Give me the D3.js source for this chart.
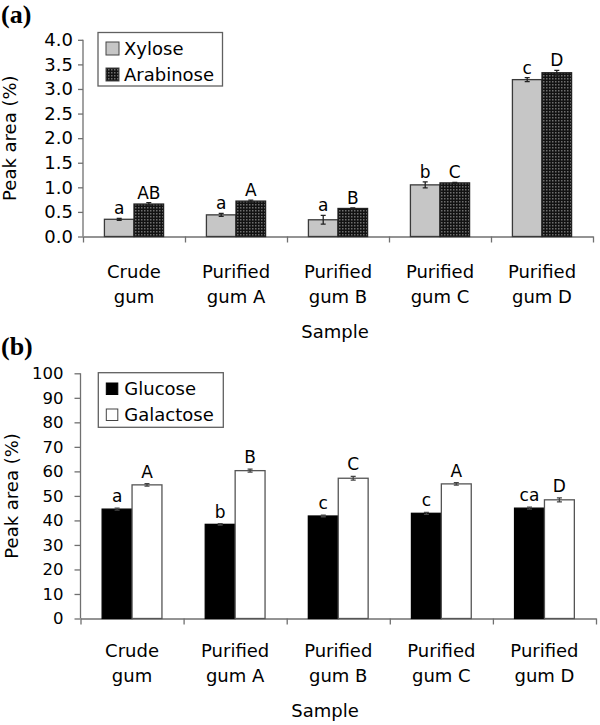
<!DOCTYPE html>
<html>
<head>
<meta charset="utf-8">
<script src="https://cdn.jsdelivr.net/npm/d3@7"></script>
<style>
  html, body { margin: 0; padding: 0; background: #fff; }
  svg { display: block; }
  text { font-family: "DejaVu Sans", "Liberation Sans", Arial, sans-serif; fill: #000; }
</style>
</head>
<body>
<div id="chart"></div>
<script>
// ---------------- DATA ----------------
const categories = ["Crude gum", "Purified gum A", "Purified gum B", "Purified gum C", "Purified gum D"];
const categoryLines = [["Crude", "gum"], ["Purified", "gum A"], ["Purified", "gum B"], ["Purified", "gum C"], ["Purified", "gum D"]];

// Panel (a)
const seriesA = ["Xylose", "Arabinose"];
const xyloseVals = [0.35, 0.44, 0.34, 1.05, 3.19];
const xyloseErr = [0.02, 0.03, 0.09, 0.06, 0.04];
const xyloseLetters = ["a", "a", "a", "b", "c"];
const arabinoseVals = [0.66, 0.72, 0.57, 1.09, 3.33];
const arabinoseErr = [0.03, 0.02, 0.01, 0.01, 0.05];
const arabinoseLetters = ["AB", "A", "B", "C", "D"];
const yTicksA = [0, 0.5, 1.0, 1.5, 2.0, 2.5, 3.0, 3.5, 4.0];

// Panel (b)
const seriesB = ["Glucose", "Galactose"];
const glucoseVals = [44.6, 38.4, 41.8, 42.9, 45.0];
const glucoseErr = [0.4, 0.3, 0.3, 0.4, 0.4];
const glucoseLetters = ["a", "b", "c", "c", "ca"];
const galactoseVals = [54.5, 60.3, 57.2, 54.9, 48.4];
const galactoseErr = [0.5, 0.6, 0.8, 0.5, 0.8];
const galactoseLetters = ["A", "B", "C", "A", "D"];
const yTicksB = [0, 10, 20, 30, 40, 50, 60, 70, 80, 90, 100];

// ---------------- DRAW ----------------
const W = 600, H = 725;
const svg = d3.select("#chart").append("svg").attr("width", W).attr("height", H);

const defs = svg.append("defs");
const pat = defs.append("pattern").attr("id", "checker")
  .attr("patternUnits", "userSpaceOnUse").attr("width", 3).attr("height", 3);
pat.append("rect").attr("width", 3).attr("height", 3).attr("fill", "#121212");
pat.append("rect").attr("width", 1.5).attr("height", 1.5).attr("fill", "#6e6e6e");

const styleA = {
  Xylose: { fill: "#c6c6c6", stroke: "#3a3a3a" },
  Arabinose: { fill: "url(#checker)", stroke: "#222" }
};
const styleB = {
  Glucose: { fill: "#000", stroke: "#000" },
  Galactose: { fill: "#fff", stroke: "#555" }
};

function drawPanel(cfg) {
  const g = svg.append("g");
  const x0 = d3.scaleBand().domain(categories).range([cfg.xL, cfg.xR]).padding(0);
  const bw = x0.bandwidth();
  const frac = cfg.groupFrac;
  const x1 = d3.scaleBand().domain(cfg.series)
    .range([bw * (1 - frac) / 2, bw * (1 + frac) / 2]).padding(0);
  const y = d3.scaleLinear().domain(cfg.yDomain).range([cfg.yB, cfg.yT]);

  // panel letter
  g.append("text").attr("x", 1).attr("y", cfg.tagY)
    .style("font-family", "'Liberation Serif', 'Times New Roman', serif")
    .style("font-weight", "bold").style("font-size", "26px").text(cfg.tag);

  // y axis
  const yAxis = d3.axisLeft(y).tickValues(cfg.yTicks).tickFormat(cfg.yFmt)
    .tickSizeOuter(0).tickSizeInner(cfg.yTickLen).tickPadding(cfg.yTickPad);
  const ga = g.append("g").attr("transform", `translate(${cfg.xL},0)`).call(yAxis);
  ga.select(".domain").attr("stroke", "#707070").attr("stroke-width", 1.3)
    .attr("d", `M0,${cfg.yB}V${cfg.yT}`);
  ga.selectAll(".tick line").attr("stroke", "#707070").attr("stroke-width", 1.3);
  ga.selectAll(".tick text").style("font-size", cfg.yFont + "px")
    .style("font-family", "'DejaVu Sans', sans-serif").attr("fill", "#000");

  // x axis (ticks at band boundaries)
  const bl = d3.scaleLinear().domain([0, categories.length]).range([cfg.xL, cfg.xR]);
  const xAxis = d3.axisBottom(bl).tickValues(d3.range(0, categories.length + 1))
    .tickFormat("").tickSizeOuter(0).tickSizeInner(6);
  const gx = g.append("g").attr("transform", `translate(0,${cfg.yB})`).call(xAxis);
  gx.select(".domain").attr("stroke", "#707070").attr("stroke-width", 1.3);
  gx.selectAll(".tick line").attr("stroke", "#707070").attr("stroke-width", 1.3);

  // category labels
  categories.forEach((c, i) => {
    const t = g.append("text").attr("text-anchor", "middle")
      .attr("x", x0(c) + bw / 2).style("font-size", "18px");
    t.append("tspan").attr("x", x0(c) + bw / 2).attr("y", cfg.catY1).text(categoryLines[i][0]);
    t.append("tspan").attr("x", x0(c) + bw / 2).attr("y", cfg.catY2).text(categoryLines[i][1]);
  });

  // x title
  g.append("text").attr("x", cfg.xTitleX).attr("y", cfg.xTitleY).attr("text-anchor", "middle")
    .style("font-size", "18px").text("Sample");

  // y title
  g.append("text").attr("transform", `translate(${cfg.yTitleX},${(cfg.yB + cfg.yT) / 2}) rotate(-90)`)
    .attr("text-anchor", "middle").style("font-size", "18px").text("Peak area (%)");

  // bars
  cfg.series.forEach((s, si) => {
    const vals = cfg.vals[si], errs = cfg.errs[si], lets = cfg.letters[si];
    const st = cfg.style[s];
    const data = categories.map((c, i) => ({ c, v: vals[i], e: errs[i], l: lets[i] }));
    const gs = g.append("g");
    gs.selectAll("rect").data(data).join("rect")
      .attr("x", d => x0(d.c) + x1(s))
      .attr("y", d => y(d.v))
      .attr("width", x1.bandwidth())
      .attr("height", d => y(0) - y(d.v))
      .attr("fill", st.fill).attr("stroke", st.stroke).attr("stroke-width", 1.3);
    // error bars
    const cx = d => x0(d.c) + x1(s) + x1.bandwidth() / 2;
    gs.selectAll("path.err").data(data).join("path").attr("class", "err")
      .attr("d", d => {
        const a = y(d.v + d.e), b = y(d.v - d.e), xc = cx(d);
        return `M${xc},${a}V${b}M${xc - 2.5},${a}H${xc + 2.5}M${xc - 2.5},${b}H${xc + 2.5}`;
      })
      .attr("stroke", cfg.errColor).attr("stroke-width", 1.3).attr("fill", "none");
    // letters
    gs.selectAll("text.sig").data(data).join("text").attr("class", "sig")
      .attr("x", cx).attr("y", d => y(d.v + d.e) - cfg.letterOff)
      .attr("text-anchor", "middle").style("font-size", "17px").text(d => d.l);
  });

  // legend
  const lg = g.append("g");
  lg.append("rect").attr("x", cfg.leg.x).attr("y", cfg.leg.y)
    .attr("width", cfg.leg.w).attr("height", cfg.leg.h)
    .attr("fill", "#fff").attr("stroke", "#606060").attr("stroke-width", 1.3);
  cfg.series.forEach((s, si) => {
    const st = cfg.style[s];
    const by = cfg.leg.rowY[si];
    lg.append("rect").attr("x", cfg.leg.x + 8).attr("y", by - cfg.leg.sw)
      .attr("width", cfg.leg.sw).attr("height", cfg.leg.sw)
      .attr("fill", st.fill).attr("stroke", st.stroke === "#000" ? "#000" : "#444").attr("stroke-width", 1);
    lg.append("text").attr("x", cfg.leg.x + 26).attr("y", by)
      .style("font-size", "18px").text(s);
  });
}

drawPanel({
  tag: "(a)", tagY: 23,
  xL: 83, xR: 593, yB: 236.5, yT: 39.8, yDomain: [0, 4],
  yTicks: yTicksA, yFmt: d3.format(".1f"), yTickLen: 5, yTickPad: 5, yFont: 18,
  groupFrac: 0.58,
  series: seriesA,
  vals: [xyloseVals, arabinoseVals], errs: [xyloseErr, arabinoseErr],
  letters: [xyloseLetters, arabinoseLetters],
  style: styleA, errColor: "#222", letterOff: 4,
  catY1: 278, catY2: 303, xTitleX: 335, xTitleY: 338, yTitleX: 16,
  leg: { x: 98, y: 32.5, w: 124.5, h: 53.5, rowY: [55, 81], sw: 13 }
});

drawPanel({
  tag: "(b)", tagY: 355,
  xL: 80.5, xR: 596, yB: 618.5, yT: 373.3, yDomain: [0, 100],
  yTicks: yTicksB, yFmt: d3.format("d"), yTickLen: 6, yTickPad: 11, yFont: 16.5,
  groupFrac: 0.58,
  series: seriesB,
  vals: [glucoseVals, galactoseVals], errs: [glucoseErr, galactoseErr],
  letters: [glucoseLetters, galactoseLetters],
  style: styleB, errColor: "#444", letterOff: 6,
  catY1: 657, catY2: 682, xTitleX: 325, xTitleY: 717, yTitleX: 18,
  leg: { x: 98.3, y: 372.7, w: 125, h: 54.6, rowY: [394.5, 420.5], sw: 11.5 }
});
</script>
</body>
</html>
